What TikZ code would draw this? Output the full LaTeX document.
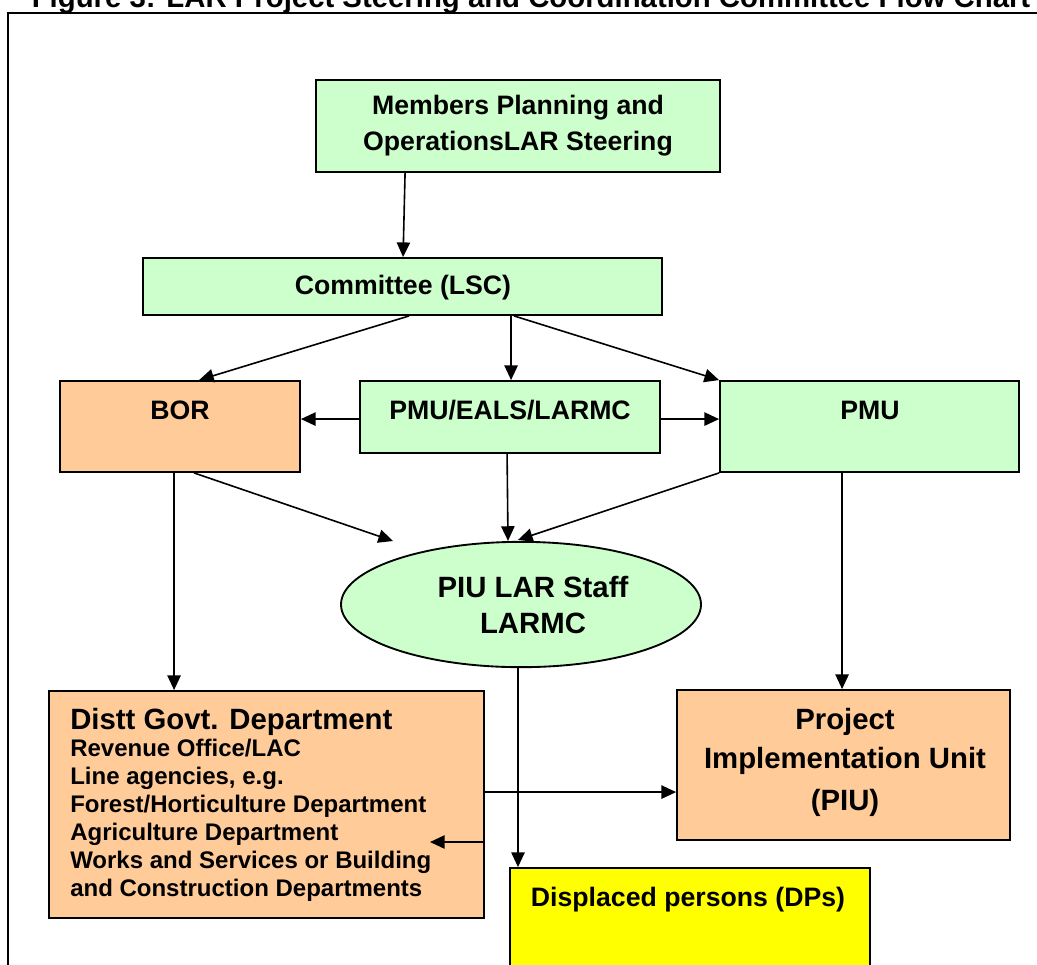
\documentclass[tikz,border=0pt]{standalone}
\usepackage{fontspec}
\setmainfont{Liberation Sans}
\usetikzlibrary{arrows.meta,shapes.geometric,fit,calc,shadows}
\definecolor{lgreen}{HTML}{CCFFCC}
\definecolor{lorange}{HTML}{FFCC99}
\definecolor{dyellow}{HTML}{FFFF00}
\begin{document}
\begin{tikzpicture}[x=0.75pt,y=-0.75pt,
  box/.style={draw=black, line width=1.4pt, inner sep=0pt,
    drop shadow={shadow xshift=1.1pt, shadow yshift=-1.1pt, opacity=0.7, fill=black!80}},
  gbox/.style={box, fill=lgreen},
  obox/.style={box, fill=lorange},
  ybox/.style={box, fill=dyellow},
  arr/.style={line width=1.2pt, -{Triangle[length=11pt,width=10pt]}},
  lab/.style={anchor=base, inner sep=0pt, font=\bfseries\fontsize{20}{24}\selectfont},
  labL/.style={anchor=base, inner sep=0pt, font=\bfseries\fontsize{22}{26}\selectfont},
  labS/.style={anchor=base west, inner sep=0pt, font=\bfseries\fontsize{18}{22}\selectfont}]
\useasboundingbox (0,0) rectangle (1037,964);
\clip (0,0) rectangle (1037,964);
% title and frame
\node[labL] (title) at (531,7) {Figure 3: LAR Project Steering and Coordination Committee Flow Chart};
\draw[line width=1.5pt] (8,13) rectangle (1050,980);
% shapes
\node[gbox, fit={(316,80) (720,172)}] (m) {};
\node[gbox, fit={(143,258) (662,315)}] (lsc) {};
\node[obox, fit={(60,381) (300,472)}] (bor) {};
\node[gbox, fit={(360,381) (660,453)}] (pe) {};
\node[gbox, fit={(720,381) (1019,472)}] (pmu) {};
\node[ellipse, draw=black, line width=1.4pt, fill=lgreen, inner sep=0pt,
      minimum width=270pt, minimum height=94pt] (el) at (521,604.5) {};
\node[obox, fit={(49,691) (484,918)}] (dg) {};
\node[obox, fit={(677,690) (1010,840)}] (piu) {};
\node[ybox, fit={(510,868) (870,990)}] (dp) {};
% texts
\node[lab] (t1) at (518,114) {Members Planning and};
\node[lab] (t2) at (518,150) {OperationsLAR Steering};
\node[lab] (t3) at (403,294) {Committee (LSC)};
\node[lab] (t4) at (180,419) {BOR};
\node[lab] (t5) at (510,419) {PMU/EALS/LARMC};
\node[lab] (t6) at (870,419) {PMU};
\node[labL] (t7) at (533,597) {PIU LAR Staff};
\node[labL] (t8) at (533,633) {LARMC};
\node[labL, anchor=base west] (t9) at (70,729) {Distt Govt. Department};
\node[labS] (t10) at (70,756) {Revenue Office/LAC};
\node[labS] (t11) at (70,784) {Line agencies, e.g.};
\node[labS] (t12) at (70,812) {Forest/Horticulture Department};
\node[labS] (t13) at (70,840) {Agriculture Department};
\node[labS] (t14) at (70,868) {Works and Services or Building};
\node[labS] (t15) at (70,896) {and Construction Departments};
\node[labL] (t16) at (845,729) {Project};
\node[labL] (t17) at (845,768) {Implementation Unit};
\node[labL] (t18) at (845,810) {(PIU)};
\node[lab] (t19) at (688,906) {Displaced persons (DPs)};
% connectors
\draw[arr] ($(m.south west)+(90,0)$) -- ($(lsc.north west)+(261,0)$);
\draw[arr] ($(lsc.south west)+(267,0)$) -- ($(bor.north west)+(140,0)$);
\draw[arr] ($(lsc.south west)+(369,0)$) -- ($(pe.north west)+(152,0)$);
\draw[arr] ($(lsc.south west)+(372,0)$) -- (pmu.north west);
\draw[arr] ($(pe.north west)+(0,39)$) coordinate (a1) -- (a1 -| bor.east);
\draw[arr] ($(pe.north east)+(0,39)$) coordinate (a2) -- (a2 -| pmu.west);
\coordinate (e1) at (393,541);
\draw[arr] ($(bor.south west)+(135,0)$) -- (e1);
\draw[arr] ($(pe.south west)+(148,0)$) -- ($(el.north)+(-13,0)$);
\draw[arr] (pmu.south west) -- ($(el.north)+(-3,-1)$);
\draw[arr] ($(bor.south west)+(115,0)$) coordinate (a3) -- (a3 |- dg.north);
\draw[arr] ($(pmu.south west)+(123,0)$) coordinate (a4) -- (a4 |- piu.north);
\draw[arr] ($(el.south)+(-3,0)$) coordinate (a5) -- (a5 |- dp.north);
\draw[arr] ($(dg.north east)+(0,102)$) coordinate (a6) -- (a6 -| piu.west);
\coordinate (e2) at (430,842);
\draw[arr] (e2 -| dg.east) -- (e2);
\end{tikzpicture}
\end{document}
